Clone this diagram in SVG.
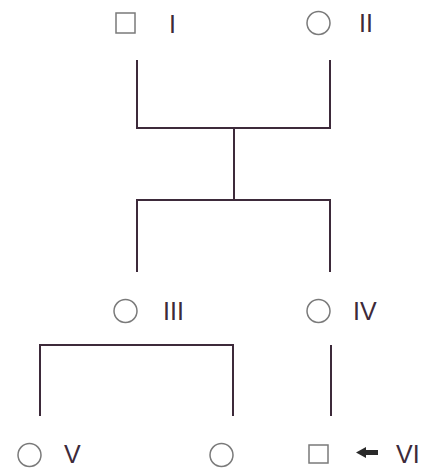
<svg xmlns="http://www.w3.org/2000/svg" width="422" height="470" viewBox="0 0 422 470">
  <style>
    .sym { fill: none; stroke: #7a7a7a; stroke-width: 1.5; }
    .lbl { font-family: "Liberation Sans", Arial, sans-serif; font-size: 25px; fill: #3d2a3a; }
    .con { fill: none; stroke: #3d2a3a; stroke-width: 2; stroke-linejoin: miter; }
  </style>
  <rect width="422" height="470" fill="#ffffff"/>
  <g id="connectors">
    <path class="con" d="M137 60 V128 H330 V60"/>
    <path class="con" d="M234 128 V200"/>
    <path class="con" d="M137 272 V200 H330 V272"/>
    <path class="con" d="M40 416 V345 H233 V416"/>
    <path class="con" d="M331 345 V416"/>
  </g>
  <g id="node-I">
    <rect class="sym" x="116" y="13" width="19" height="20"/>
    <text class="lbl" x="169" y="33">I</text>
  </g>
  <g id="node-II">
    <circle class="sym" cx="318.5" cy="23" r="11.5"/>
    <text class="lbl" x="359" y="32">II</text>
  </g>
  <g id="node-III">
    <circle class="sym" cx="125.5" cy="311" r="11.5"/>
    <text class="lbl" x="163" y="320">III</text>
  </g>
  <g id="node-IV">
    <circle class="sym" cx="318.5" cy="311" r="11.5"/>
    <text class="lbl" x="353" y="320">IV</text>
  </g>
  <g id="node-V">
    <circle class="sym" cx="29.5" cy="455" r="11.5"/>
    <text class="lbl" x="64" y="463">V</text>
  </g>
  <g id="node-sibling">
    <circle class="sym" cx="221.5" cy="455" r="11.5"/>
  </g>
  <g id="node-VI">
    <rect class="sym" x="309" y="445" width="19" height="18"/>
    <polygon fill="#2a2a2a" points="356,452.5 366,447 366,450 378,450 378,455 366,455 366,458"/>
    <text class="lbl" x="396" y="463">VI</text>
  </g>
</svg>
